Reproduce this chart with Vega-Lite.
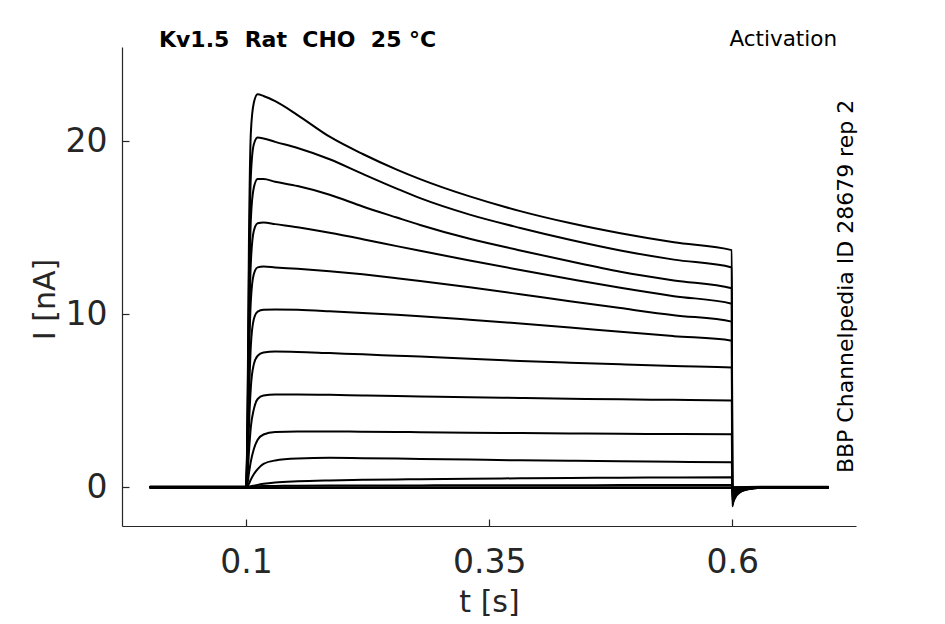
{
  "$schema": "https://vega.github.io/schema/vega-lite/v6.json",
  "width": 734,
  "height": 479,
  "autosize": {"type": "none"},
  "padding": {"left": 122, "top": 47, "right": 89, "bottom": 98},
  "background": "white",
  "config": {
    "view": {"stroke": null},
    "font": "DejaVu Sans",
    "axis": {
      "domainColor": "#262626",
      "domainWidth": 1.2,
      "tickColor": "#262626",
      "tickWidth": 1.2,
      "tickSize": -7,
      "grid": false,
      "labelFont": "DejaVu Sans",
      "labelFontSize": 33,
      "labelColor": "#262626",
      "titleFont": "DejaVu Sans",
      "titleFontSize": 30,
      "titleFontWeight": "normal",
      "titleColor": "#262626"
    }
  },
  "layer": [
    {
      "data": {
        "values": [
          {"t": 0.001, "s01": 0, "s02": 0, "s03": 0, "s04": 0, "s05": 0, "s06": 0, "s07": 0, "s08": 0, "s09": 0, "s10": 0, "s11": 0, "s12": 0.04, "s13": 0, "s14": -0.04},
          {"t": 0.1, "s01": 0, "s02": 0, "s03": 0, "s04": 0, "s05": 0, "s06": 0, "s07": 0, "s08": 0, "s09": 0, "s10": 0, "s11": 0, "s12": 0.04, "s13": 0, "s14": -0.04},
          {"t": 0.1015, "s01": 4, "s02": 3.5, "s03": 3, "s04": 2.5, "s05": 2, "s06": 1.5, "s07": 1, "s08": 0.6, "s09": 0.2, "s10": 0.05, "s11": 0, "s12": 0.04, "s13": 0, "s14": -0.04},
          {"t": 0.103, "s01": 14, "s02": 12, "s03": 10, "s04": 8.5, "s05": 7, "s06": 5, "s07": 3.5, "s08": 2.0, "s09": 0.8, "s10": 0.2, "s11": 0.02, "s12": 0.04, "s13": 0, "s14": -0.04},
          {"t": 0.105, "s01": 20.5, "s02": 18, "s03": 15.5, "s04": 13, "s05": 10.8, "s06": 8.2, "s07": 5.8, "s08": 3.5, "s09": 1.5, "s10": 0.45, "s11": 0.05, "s12": 0.05, "s13": 0, "s14": -0.04},
          {"t": 0.108, "s01": 22.2, "s02": 19.8, "s03": 17.3, "s04": 14.8, "s05": 12.3, "s06": 9.7, "s07": 7.1, "s08": 4.5, "s09": 2.2, "s10": 0.75, "s11": 0.09, "s12": 0.05, "s13": 0, "s14": -0.04},
          {"t": 0.112, "s01": 22.7, "s02": 20.2, "s03": 17.8, "s04": 15.25, "s05": 12.7, "s06": 10.15, "s07": 7.6, "s08": 5.1, "s09": 2.75, "s10": 1.05, "s11": 0.14, "s12": 0.06, "s13": 0.01, "s14": -0.04},
          {"t": 0.118, "s01": 22.6, "s02": 20.15, "s03": 17.8, "s04": 15.3, "s05": 12.75, "s06": 10.25, "s07": 7.78, "s08": 5.3, "s09": 3.05, "s10": 1.35, "s11": 0.2, "s12": 0.07, "s13": 0.01, "s14": -0.04},
          {"t": 0.13, "s01": 22.3, "s02": 19.95, "s03": 17.65, "s04": 15.2, "s05": 12.7, "s06": 10.27, "s07": 7.84, "s08": 5.36, "s09": 3.2, "s10": 1.55, "s11": 0.28, "s12": 0.08, "s13": 0.01, "s14": -0.04},
          {"t": 0.153, "s01": 21.5, "s02": 19.6, "s03": 17.4, "s04": 15.02, "s05": 12.62, "s06": 10.25, "s07": 7.82, "s08": 5.36, "s09": 3.23, "s10": 1.66, "s11": 0.35, "s12": 0.09, "s13": 0.01, "s14": -0.04},
          {"t": 0.186, "s01": 20.25, "s02": 18.95, "s03": 16.9, "s04": 14.7, "s05": 12.48, "s06": 10.17, "s07": 7.75, "s08": 5.34, "s09": 3.23, "s10": 1.7, "s11": 0.4, "s12": 0.1, "s13": 0.01, "s14": -0.04},
          {"t": 0.22, "s01": 19.25, "s02": 18.1, "s03": 16.22, "s04": 14.33, "s05": 12.3, "s06": 10.07, "s07": 7.68, "s08": 5.3, "s09": 3.21, "s10": 1.68, "s11": 0.43, "s12": 0.1, "s13": 0.01, "s14": -0.04},
          {"t": 0.255, "s01": 18.35, "s02": 17.25, "s03": 15.58, "s04": 13.93, "s05": 12.08, "s06": 9.96, "s07": 7.6, "s08": 5.27, "s09": 3.2, "s10": 1.66, "s11": 0.45, "s12": 0.11, "s13": 0.01, "s14": -0.04},
          {"t": 0.279, "s01": 17.8, "s02": 16.7, "s03": 15.15, "s04": 13.66, "s05": 11.92, "s06": 9.88, "s07": 7.55, "s08": 5.25, "s09": 3.18, "s10": 1.64, "s11": 0.47, "s12": 0.11, "s13": 0.01, "s14": -0.04},
          {"t": 0.33, "s01": 16.8, "s02": 15.75, "s03": 14.35, "s04": 13.1, "s05": 11.55, "s06": 9.68, "s07": 7.42, "s08": 5.2, "s09": 3.15, "s10": 1.6, "s11": 0.5, "s12": 0.12, "s13": 0.01, "s14": -0.04},
          {"t": 0.382, "s01": 15.95, "s02": 14.98, "s03": 13.68, "s04": 12.55, "s05": 11.15, "s06": 9.46, "s07": 7.3, "s08": 5.16, "s09": 3.13, "s10": 1.56, "s11": 0.52, "s12": 0.12, "s13": 0.01, "s14": -0.04},
          {"t": 0.433, "s01": 15.26, "s02": 14.3, "s03": 13.05, "s04": 12.03, "s05": 10.75, "s06": 9.23, "s07": 7.2, "s08": 5.12, "s09": 3.11, "s10": 1.53, "s11": 0.54, "s12": 0.12, "s13": 0.01, "s14": -0.04},
          {"t": 0.485, "s01": 14.67, "s02": 13.68, "s03": 12.45, "s04": 11.52, "s05": 10.35, "s06": 8.98, "s07": 7.1, "s08": 5.08, "s09": 3.09, "s10": 1.5, "s11": 0.55, "s12": 0.13, "s13": 0.01, "s14": -0.04},
          {"t": 0.54, "s01": 14.15, "s02": 13.15, "s03": 11.95, "s04": 11.04, "s05": 9.94, "s06": 8.73, "s07": 7.0, "s08": 5.05, "s09": 3.08, "s10": 1.47, "s11": 0.57, "s12": 0.13, "s13": 0.01, "s14": -0.04},
          {"t": 0.5995, "s01": 13.7, "s02": 12.7, "s03": 11.5, "s04": 10.6, "s05": 9.57, "s06": 8.47, "s07": 6.92, "s08": 5.02, "s09": 3.06, "s10": 1.44, "s11": 0.58, "s12": 0.13, "s13": 0.01, "s14": -0.04},
          {"t": 0.6, "s01": -1.1, "s02": -1.0, "s03": -0.92, "s04": -0.85, "s05": -0.77, "s06": -0.68, "s07": -0.55, "s08": -0.4, "s09": -0.25, "s10": -0.12, "s11": -0.05, "s12": 0, "s13": 0, "s14": -0.04},
          {"t": 0.601, "s01": -0.88, "s02": -0.8, "s03": -0.74, "s04": -0.68, "s05": -0.61, "s06": -0.54, "s07": -0.44, "s08": -0.32, "s09": -0.2, "s10": -0.09, "s11": -0.04, "s12": 0, "s13": 0, "s14": -0.04},
          {"t": 0.603, "s01": -0.6, "s02": -0.55, "s03": -0.5, "s04": -0.47, "s05": -0.42, "s06": -0.37, "s07": -0.3, "s08": -0.22, "s09": -0.14, "s10": -0.06, "s11": -0.03, "s12": 0, "s13": 0, "s14": -0.04},
          {"t": 0.607, "s01": -0.33, "s02": -0.3, "s03": -0.28, "s04": -0.26, "s05": -0.23, "s06": -0.2, "s07": -0.17, "s08": -0.12, "s09": -0.07, "s10": -0.03, "s11": -0.01, "s12": 0, "s13": 0, "s14": -0.04},
          {"t": 0.615, "s01": -0.13, "s02": -0.12, "s03": -0.11, "s04": -0.1, "s05": -0.09, "s06": -0.08, "s07": -0.07, "s08": -0.05, "s09": -0.03, "s10": -0.01, "s11": 0, "s12": 0.02, "s13": 0, "s14": -0.04},
          {"t": 0.63, "s01": -0.03, "s02": -0.03, "s03": -0.03, "s04": -0.03, "s05": -0.02, "s06": -0.02, "s07": -0.02, "s08": -0.01, "s09": 0, "s10": 0, "s11": 0, "s12": 0.03, "s13": 0, "s14": -0.04},
          {"t": 0.699, "s01": 0, "s02": 0, "s03": 0, "s04": 0, "s05": 0, "s06": 0, "s07": 0, "s08": 0, "s09": 0, "s10": 0, "s11": 0, "s12": 0.03, "s13": 0, "s14": -0.04}
        ]
      },
      "transform": [
        {"fold": ["s01", "s02", "s03", "s04", "s05", "s06", "s07", "s08", "s09", "s10", "s11", "s12", "s13", "s14"], "as": ["trace", "I"]}
      ],
      "mark": {"type": "line", "color": "black", "strokeWidth": 2, "interpolate": "monotone"},
      "encoding": {
        "x": {
          "field": "t",
          "type": "quantitative",
          "scale": {"domain": [-0.0275, 0.7272], "nice": false, "zero": false},
          "axis": {"values": [0.1, 0.35, 0.6], "format": "~g", "title": "t [s]", "labelPadding": 27, "titlePadding": 8}
        },
        "y": {
          "field": "I",
          "type": "quantitative",
          "scale": {"domain": [-2.235, 25.43], "nice": false, "zero": false},
          "axis": {"values": [0, 10, 20], "title": "I [nA]", "labelPadding": 22, "titleX": -68, "titleY": 252, "titleAngle": 270, "titleBaseline": "alphabetic", "titleAlign": "center"}
        },
        "detail": {"field": "trace"}
      }
    },
    {
      "data": {"values": [{"label": "Kv1.5\u00a0\u00a0Rat\u00a0\u00a0CHO\u00a0\u00a025 °C", "t": 0.0105, "I": 25.44}]},
      "mark": {"type": "text", "align": "left", "baseline": "alphabetic", "fontSize": 22, "fontWeight": "bold", "color": "black", "font": "DejaVu Sans"},
      "encoding": {
        "x": {"field": "t", "type": "quantitative"},
        "y": {"field": "I", "type": "quantitative"},
        "text": {"field": "label"}
      }
    },
    {
      "data": {"values": [{"label": "Activation", "t": 0.7077, "I": 25.48}]},
      "mark": {"type": "text", "align": "right", "baseline": "alphabetic", "fontSize": 21.5, "color": "black", "font": "DejaVu Sans"},
      "encoding": {
        "x": {"field": "t", "type": "quantitative"},
        "y": {"field": "I", "type": "quantitative"},
        "text": {"field": "label"}
      }
    },
    {
      "data": {"values": [{"label": "BBP Channelpedia ID 28679 rep 2", "t": 0.7245, "I": 11.6}]},
      "mark": {"type": "text", "align": "center", "baseline": "alphabetic", "angle": 270, "fontSize": 22, "color": "black", "font": "DejaVu Sans"},
      "encoding": {
        "x": {"field": "t", "type": "quantitative"},
        "y": {"field": "I", "type": "quantitative"},
        "text": {"field": "label"}
      }
    }
  ]
}
